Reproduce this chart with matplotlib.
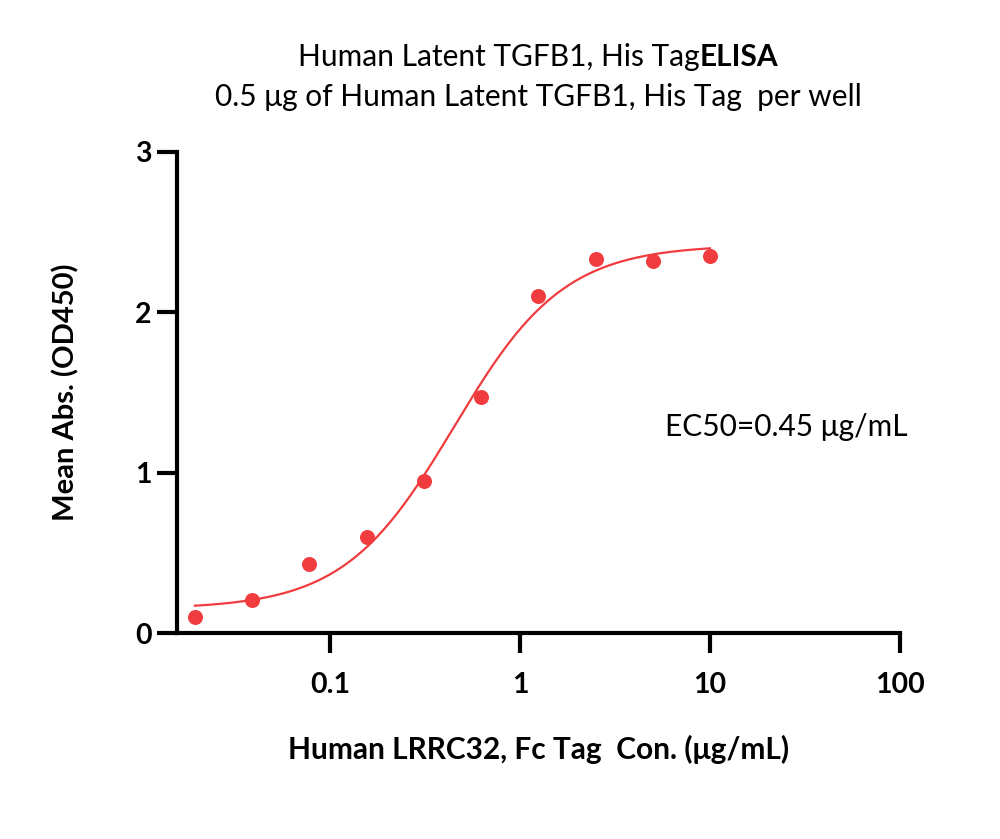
import numpy as np
import matplotlib
matplotlib.use("Agg")
import matplotlib.pyplot as plt
from matplotlib.ticker import FixedLocator, NullLocator

plt.rcParams['font.family'] = ['Lato', 'DejaVu Sans']

# measured points
conc = [0.0195, 0.039, 0.078, 0.156, 0.3125, 0.625, 1.25, 2.5, 5.0, 10.0]
od450 = [0.10, 0.205, 0.43, 0.60, 0.945, 1.47, 2.10, 2.33, 2.32, 2.35]

# 4PL fit parameters
bottom, top, ec50, hill = 0.15, 2.42, 0.45, 1.5

xticks = [0.1, 1, 10, 100]
xticklabels = ["0.1", "1", "10", "100"]
yticks = [0, 1, 2, 3]

red = '#F03C3F'

fig = plt.figure(figsize=(10, 8.39), dpi=100)
ax = fig.add_axes([0.177, 0.2455, 0.723, 0.5735])

xfit = np.logspace(np.log10(conc[0]), np.log10(conc[-1]), 300)
yfit = bottom + (top - bottom) / (1 + (ec50 / xfit) ** hill)
ax.plot(xfit, yfit, color=red, lw=1.6, zorder=2)
ax.plot(conc, od450, 'o', color=red, ms=10.8, mec='none', zorder=3, clip_on=False)

ax.set_xscale('log')
ax.set_xlim(0.0157, 100)
ax.set_ylim(0, 3)
ax.xaxis.set_major_locator(FixedLocator(xticks))
ax.xaxis.set_minor_locator(NullLocator())
ax.set_xticklabels(xticklabels)
ax.set_yticks(yticks)

for s in ['top', 'right']:
    ax.spines[s].set_visible(False)
for s in ['left', 'bottom']:
    ax.spines[s].set_linewidth(3)
ax.tick_params(length=14.4, width=3, labelsize=20.5)
ax.tick_params(axis='x', pad=14)
ax.tick_params(axis='y', pad=4)
for lab in ax.get_xticklabels() + ax.get_yticklabels():
    lab.set_fontweight('bold')

ax.set_xlabel("Human LRRC32, Fc Tag  Con. (\u03bcg/mL)", fontsize=21.5, fontweight='bold', labelpad=26)
ax.set_ylabel("Mean Abs. (OD450)", fontsize=21, fontweight='bold', labelpad=40)

ax.text(0.675, 0.428, "EC50=0.45 \u03bcg/mL", transform=ax.transAxes, fontsize=21.5,
        ha='left', va='center')

# title: normal part followed by bold part
renderer = fig.canvas.get_renderer()
t1 = fig.text(0, 1 - 57 / 839, "Human Latent TGFB1, His Tag", fontsize=21.5, va='center')
t2 = fig.text(0, 1 - 57 / 839, "ELISA", fontsize=21.5, fontweight='bold', va='center')
w1 = t1.get_window_extent(renderer).width / fig.bbox.width
w2 = t2.get_window_extent(renderer).width / fig.bbox.width
x0 = 0.538 - (w1 + w2) / 2
t1.set_x(x0)
t2.set_x(x0 + w1)
fig.text(0.538, 1 - 97 / 839, "0.5 \u03bcg of Human Latent TGFB1, His Tag  per well",
         fontsize=21.5, ha='center', va='center')

fig.savefig("out.png", dpi=100)
